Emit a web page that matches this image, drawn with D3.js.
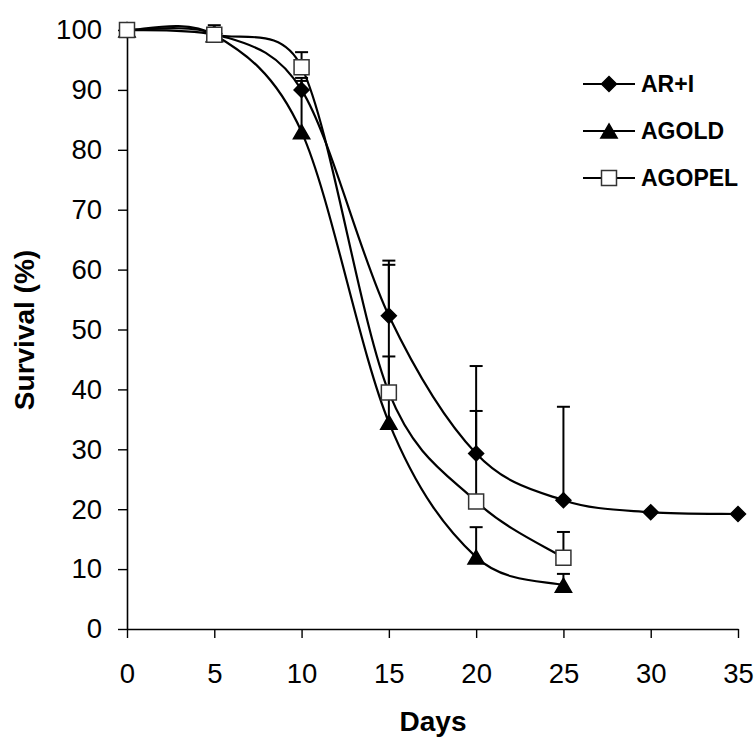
<!DOCTYPE html>
<html><head><meta charset="utf-8">
<script src="https://cdn.jsdelivr.net/npm/d3@7"></script>
<style>body{margin:0;background:#fff}svg{display:block}</style>
</head><body>
<svg id="c" width="756" height="738"></svg>
<script>
const days = [0, 5, 10, 15, 20, 25, 30, 35];
const xTicks = [0, 5, 10, 15, 20, 25, 30, 35];
const yTicks = [0, 10, 20, 30, 40, 50, 60, 70, 80, 90, 100];
const seriesNames = ["AR+I", "AGOLD", "AGOPEL"];
const arI = [100, 99.4, 90, 52.3, 29.3, 21.5, 19.5, 19.2];
const arIUpper = [null, null, 92, 61.5, 43.9, 37.1, null, null];
const agold = [100, 99.2, 83, 34.5, 12, 7.3];
const agoldUpper = [null, null, 91.5, 45.5, 17.0, 9.2];
const agopel = [100, 99.2, 93.8, 39.5, 21.3, 11.9];
const agopelUpper = [null, 100.8, 96.3, 60.8, 36.4, 16.2];

const FONT = "Liberation Sans, Arial, sans-serif";
const svg = d3.select("#c");
const x = d3.scaleLinear().domain([0, 35]).range([127, 738]);
const y = d3.scaleLinear().domain([0, 100]).range([629, 30]);

const xAxis = svg.append("g").attr("transform", "translate(0,629)")
  .call(d3.axisBottom(x).tickValues(xTicks).tickSize(9).tickPadding(25).tickSizeOuter(0));
const yAxis = svg.append("g").attr("transform", "translate(127,0)")
  .call(d3.axisLeft(y).tickValues(yTicks).tickSize(9).tickPadding(16).tickSizeOuter(0));
[xAxis, yAxis].forEach(g => {
  g.select(".domain").attr("stroke", "#000").attr("stroke-width", 1.6);
  g.selectAll(".tick line").attr("stroke", "#000").attr("stroke-width", 1.4);
  g.selectAll("text").attr("font-family", FONT).attr("font-size", 27.5).attr("fill", "#000");
});

svg.append("text").attr("x", 433).attr("y", 731).attr("text-anchor", "middle")
  .attr("font-family", FONT).attr("font-weight", "bold").attr("font-size", 28).text("Days");
svg.append("text").attr("transform", "translate(34,330) rotate(-90)").attr("text-anchor", "middle")
  .attr("font-family", FONT).attr("font-weight", "bold").attr("font-size", 28).text("Survival (%)");

const diamond = {
  draw(ctx, size) {
    const r = Math.sqrt(size / 2);
    ctx.moveTo(0, -r); ctx.lineTo(r, 0); ctx.lineTo(0, r); ctx.lineTo(-r, 0); ctx.closePath();
  }
};
const series = [
  {name: seriesNames[0], vals: arI, up: arIUpper, sym: diamond, size: 112, fill: "#000", stroke: "#000", dy: 0},
  {name: seriesNames[1], vals: agold, up: agoldUpper, sym: d3.symbolTriangle, size: 115, fill: "#000", stroke: "#000", dy: 2.3},
  {name: seriesNames[2], vals: agopel, up: agopelUpper, sym: d3.symbolSquare, size: 225, fill: "#fff", stroke: "#333", dy: 0}
];

// Excel-style smoothed line through screen points
function smoothPath(vals) {
  const p = vals.map((v, i) => [x(days[i]), y(v)]);
  const path = d3.path();
  const dist = (a, b) => Math.hypot(b[0] - a[0], b[1] - a[1]);
  path.moveTo(p[0][0], p[0][1]);
  for (let i = 0; i < p.length - 1; i++) {
    const p0 = p[i - 1] || p[i], p1 = p[i], p2 = p[i + 1], p3 = p[i + 2] || p[i + 1];
    const d12 = dist(p1, p2), d02 = dist(p0, p2), d13 = dist(p1, p3);
    let f1 = 1 / 6, f2 = 1 / 6;
    if (d02 / 6 > d12 / 2) f1 = d12 / 2 / d02;
    if (d13 / 6 > d12 / 2) f2 = d12 / 2 / d13;
    const c1 = [p1[0] + f1 * (p2[0] - p0[0]), p1[1] + f1 * (p2[1] - p0[1])];
    const c2 = [p2[0] - f2 * (p3[0] - p1[0]), p2[1] - f2 * (p3[1] - p1[1])];
    path.bezierCurveTo(c1[0], c1[1], c2[0], c2[1], p2[0], p2[1]);
  }
  return path.toString();
}

// error bars
series.forEach(s => {
  const g = svg.append("g");
  s.up.forEach((u, i) => {
    if (u == null) return;
    g.append("line").attr("x1", x(days[i])).attr("x2", x(days[i]))
      .attr("y1", y(s.vals[i])).attr("y2", y(u)).attr("stroke", "#000").attr("stroke-width", 2);
    g.append("line").attr("x1", x(days[i]) - 6.5).attr("x2", x(days[i]) + 6.5)
      .attr("y1", y(u)).attr("y2", y(u)).attr("stroke", "#000").attr("stroke-width", 2);
  });
});

// lines
series.forEach(s => {
  svg.append("path").attr("d", smoothPath(s.vals)).attr("fill", "none")
    .attr("stroke", "#000").attr("stroke-width", 2.2);
});

// markers
series.forEach(s => {
  const sym = d3.symbol().type(s.sym).size(s.size);
  svg.append("g").selectAll("path").data(s.vals).join("path")
    .attr("transform", (d, i) => `translate(${x(days[i])},${y(d) + s.dy})`)
    .attr("d", sym).attr("fill", s.fill).attr("stroke", s.stroke).attr("stroke-width", 1.5);
});

// legend
const leg = svg.append("g");
series.forEach((s, i) => {
  const ly = 84 + i * 47;
  leg.append("line").attr("x1", 583).attr("x2", 635).attr("y1", ly).attr("y2", ly)
    .attr("stroke", "#000").attr("stroke-width", 2);
  leg.append("path").attr("transform", `translate(609,${ly + s.dy})`)
    .attr("d", d3.symbol().type(s.sym).size(s.size)).attr("fill", s.fill)
    .attr("stroke", s.stroke).attr("stroke-width", 1.5);
  leg.append("text").attr("x", 641).attr("y", ly).attr("dy", "0.36em")
    .attr("font-family", FONT).attr("font-weight", "bold")
    .attr("font-size", 23).text(s.name);
});
</script>
</body></html>
